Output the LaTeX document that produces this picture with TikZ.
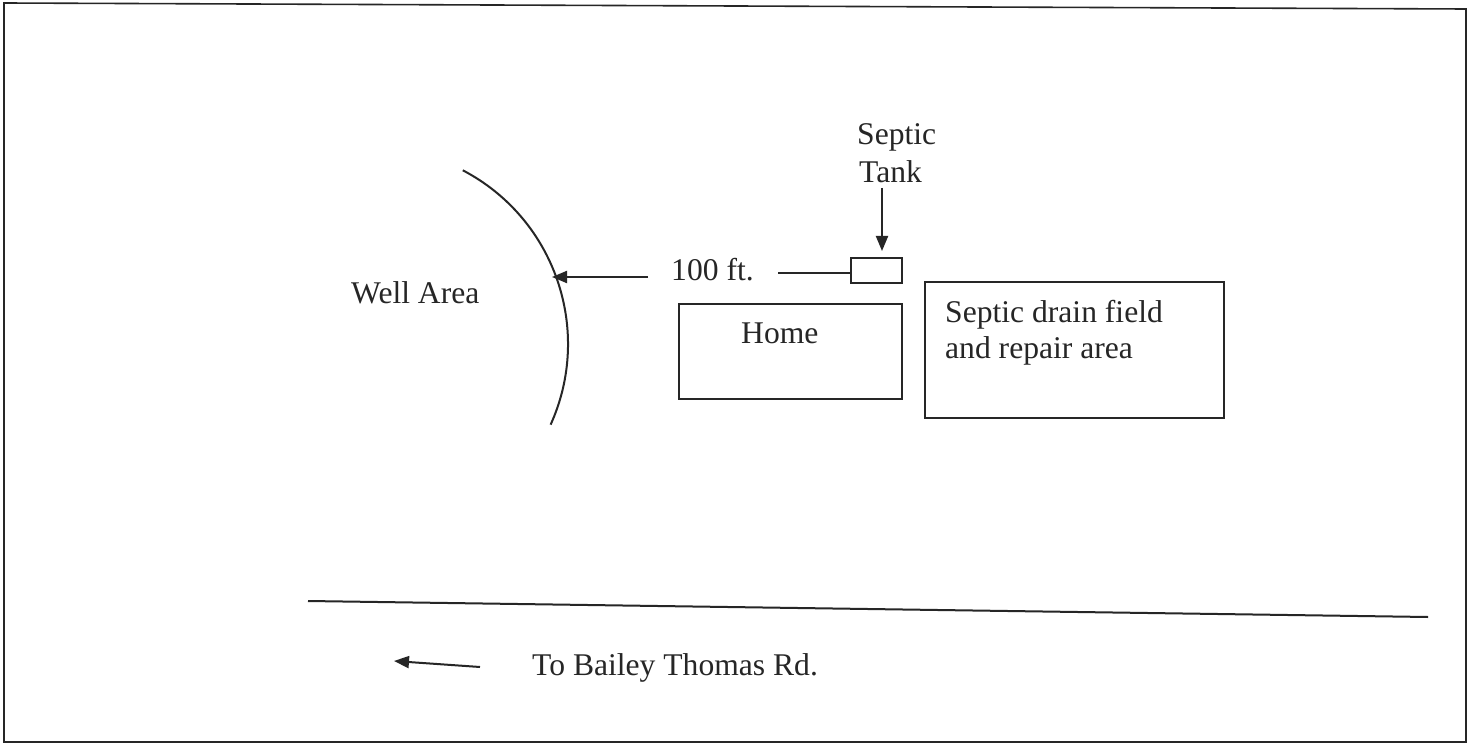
\documentclass[tikz,border=0pt]{standalone}
\usepackage{fontspec}
\setmainfont{Liberation Serif}
\usetikzlibrary{arrows.meta}
\begin{document}
\begin{tikzpicture}[x=1pt,y=-1pt,
  ink/.style={draw=black!85,line width=2pt},
  lbl/.style={inner sep=0pt,font=\fontsize{31.6}{36}\selectfont,text=black!85},
  arr/.style={ink,-{Triangle[length=15pt,width=12pt]}},
  box/.style={ink,inner sep=0pt,minimum width=#1}]
\useasboundingbox (0,0) rectangle (1472,751);
\fill[white] (0,0) rectangle (1472,751);
% frame
\draw[ink,line width=1.6pt] (4,3) -- (1466,9) -- (1466,742) -- (4,742) -- cycle;
% boxes
\node[ink,inner sep=0pt,minimum width=51pt,minimum height=25pt] (tank) at (876.5,270.5) {};
\node[ink,inner sep=0pt,minimum width=223pt,minimum height=95pt] (home) at (790.5,351.5) {};
\node[ink,inner sep=0pt,minimum width=299pt,minimum height=136pt] (field) at (1074.5,350) {};
% texts
\node[lbl,anchor=base west] (septic) at (857,145) {Septic};
\node[lbl,anchor=base west] (tanktxt) at (859,183) {Tank};
\node[lbl,anchor=base west] (dist) at (671,280) {100 ft.};
\node[lbl,anchor=base west] (well) at (351,304) {Well Area};
\node[lbl,anchor=base west] (hometxt) at (741,343) {Home};
\node[lbl,anchor=base west] (f1) at (945,322) {Septic drain field};
\node[lbl,anchor=base west] (f2) at (945,358) {and repair area};
\node[lbl,anchor=base west] (road) at (532,675) {To Bailey Thomas Rd.};
% well arc
\coordinate (arcstart) at (462.8,170.3);
\draw[ink] (arcstart) arc[start angle=-62.4,end angle=24.3,radius=196];
% connectors
\coordinate (tankarrtop) at (882,188);
\coordinate (tankarrtip) at (882,251);
\draw[arr] (tankarrtop) -- (tankarrtip);
\coordinate (distline) at (778,273);
\draw[ink] (distline) -- (tank.west |- distline);
\coordinate (wellarrtail) at (648,277);
\coordinate (wellarrtip) at (552,277);
\draw[arr] (wellarrtail) -- (wellarrtip);
% road
\coordinate (roadL) at (308,601);
\coordinate (roadR) at (1428,617);
\draw[ink] (roadL) -- (roadR);
\coordinate (roadarrtail) at (480,667);
\coordinate (roadarrtip) at (394,661);
\draw[arr] (roadarrtail) -- (roadarrtip);
\end{tikzpicture}
\end{document}
